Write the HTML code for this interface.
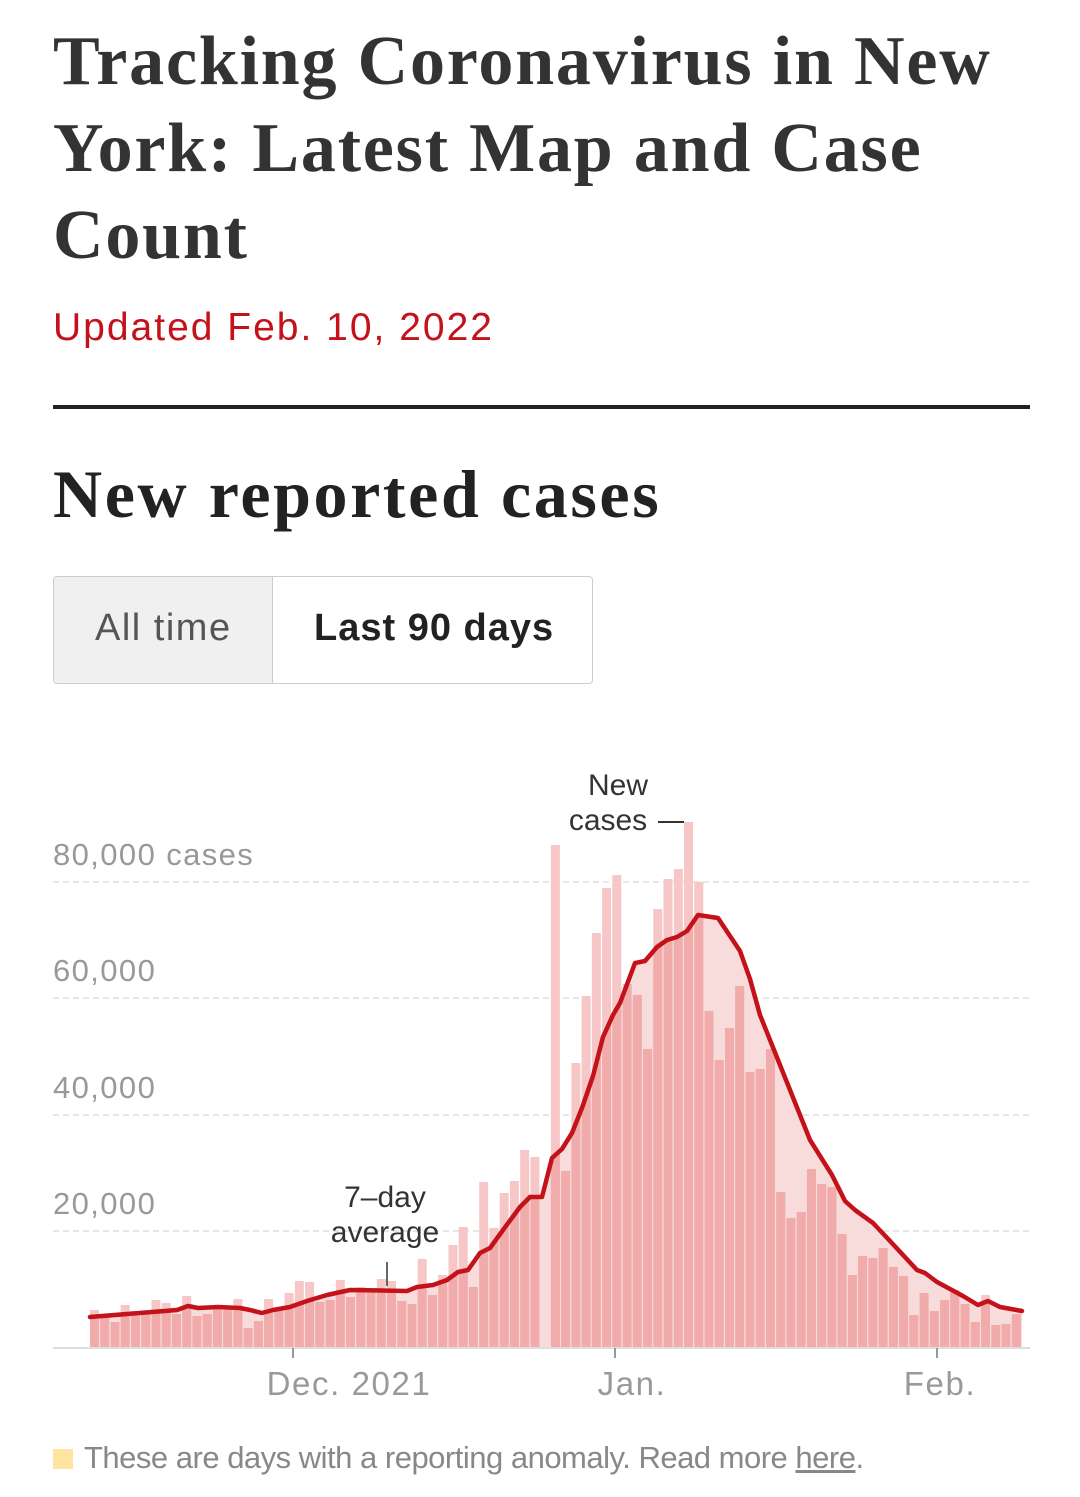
<!DOCTYPE html>
<html><head><meta charset="utf-8"><style>
body{margin:0;background:#fff;width:1080px;height:1497px;overflow:hidden;position:relative;font-family:"Liberation Sans",sans-serif}
.t{position:absolute;white-space:nowrap}
</style></head><body>
<div class="t" style="left:53px;top:18px;font:bold 70px/87px 'Liberation Serif',serif;color:#333;letter-spacing:1.8px">Tracking Coronavirus in New<br>York: Latest Map and Case<br>Count</div>
<div class="t" style="left:53px;top:306px;font-size:39px;color:#c4121a;letter-spacing:2px">Updated Feb. 10, 2022</div>
<div style="position:absolute;left:53px;top:405px;width:977px;height:4px;background:#222"></div>
<div class="t" style="left:53px;top:455px;font:bold 68px 'Liberation Serif',serif;color:#222;letter-spacing:2.6px">New reported cases</div>
<div style="position:absolute;left:53px;top:576px;width:538px;height:106px;border:1px solid #ccc;border-radius:4px;overflow:hidden">
<div style="position:absolute;left:0;top:0;width:218px;height:106px;background:#f0f0f0;border-right:1px solid #ccc"></div>
<div class="t" style="left:41px;top:30px;font-size:38px;color:#555;letter-spacing:1.5px">All time</div>
<div class="t" style="left:260px;top:30px;font-size:38px;font-weight:bold;color:#222;letter-spacing:1px">Last 90 days</div>
</div>
<svg id="c" width="1080" height="1497" style="position:absolute;left:0;top:0" xmlns="http://www.w3.org/2000/svg">
<g stroke="#ddd" stroke-width="1.5" stroke-dasharray="6,4">
<line x1="53" y1="882" x2="1030" y2="882"/><line x1="53" y1="998" x2="1030" y2="998"/><line x1="53" y1="1115" x2="1030" y2="1115"/><line x1="53" y1="1231" x2="1030" y2="1231"/></g>
<g font-family="Liberation Sans, sans-serif" font-size="31" fill="#999" letter-spacing="1.4">
<text x="53" y="865">80,000 cases</text><text x="53" y="981">60,000</text><text x="53" y="1098">40,000</text><text x="53" y="1214">20,000</text></g>
<g id="bars"></g>
<line x1="53" y1="1348" x2="1030" y2="1348" stroke="#ddd" stroke-width="2"/>
<g stroke="#999" stroke-width="2"><line x1="293" y1="1348" x2="293" y2="1358"/><line x1="615" y1="1348" x2="615" y2="1358"/><line x1="937" y1="1348" x2="937" y2="1358"/></g>
<g font-family="Liberation Sans, sans-serif" font-size="33" fill="#999" text-anchor="middle" letter-spacing="1.6">
<text x="349" y="1395">Dec. 2021</text><text x="632" y="1395">Jan.</text><text x="940" y="1395">Feb.</text></g>
<g font-family="Liberation Sans, sans-serif" font-size="30" fill="#333" text-anchor="middle">
<text x="618" y="795">New</text><text x="608" y="830">cases</text>
<text x="385" y="1207">7–day</text><text x="385" y="1242">average</text></g>
<line x1="658" y1="822" x2="684" y2="822" stroke="#333" stroke-width="2"/>
<line x1="387" y1="1262" x2="387" y2="1286" stroke="#333" stroke-width="1.5"/>
</svg>
<div style="position:absolute;left:53px;top:1449px;width:20px;height:20px;background:#fde4a0"></div>
<div class="t" style="left:84px;top:1440px;font-size:31px;color:#888;letter-spacing:-0.5px">These are days with a reporting anomaly. Read more <u>here</u>.</div>
<script>
var tops=[1310,1315,1322,1305,1311,1311,1300,1303,1314,1296,1316,1314,1307,1307,1299,1328,1321,1299,1310,1293,1281,1282,1302,1300,1280,1297,1287,1288,1279,1281,1301,1304,1259,1295,1275,1245,1227,1287,1182,1228,1193,1181,1150,1157,1347,845,1171,1063,996,933,888,875,984,995,1049,909,879,869,822,882,1011,1060,1028,986,1072,1069,1049,1192,1218,1212,1169,1184,1187,1234,1275,1256,1258,1248,1267,1276,1315,1293,1311,1300,1290,1304,1322,1295,1325,1324,1314];
var avg=[[90,1317],[177,1310],[188,1306],[198,1308],[218,1307],[240,1308],[250,1310],[262,1313],[273,1310],[290,1307],[307,1301],[327,1295],[350,1290],[407,1291],[417,1287],[433,1285],[447,1280],[458,1272],[468,1270],[480,1253],[490,1248],[503,1230],[520,1207],[530,1197],[542,1197],[552,1158],[562,1149],[572,1133],[582,1108],[593,1076],[603,1037],[613,1015],[620,1003],[635,963],[645,961],[657,947],[667,940],[677,937],[687,931],[698,915],[718,918],[740,951],[750,979],[760,1015],[780,1065],[810,1140],[832,1175],[845,1201],[855,1210],[873,1223],[890,1241],[917,1270],[925,1273],[937,1282],[963,1296],[978,1305],[988,1301],[1000,1307],[1022,1311]];
var NS="http://www.w3.org/2000/svg",g=document.getElementById('bars');
function el(n,a){var e=document.createElementNS(NS,n);for(var k in a)e.setAttribute(k,a[k]);return e}
var pts=avg.map(function(p){return p.join(',')}).join(' ');
var defs=el('defs',{}),cp=el('clipPath',{id:'cl'});cp.appendChild(el('polygon',{points:'90,1347 '+pts+' 1022,1347'}));defs.appendChild(cp);g.appendChild(defs);
g.appendChild(el('polygon',{points:'90,1347 '+pts+' 1022,1347',fill:'#f8dcdc'}));
var n=tops.length,w=(1022-90)/n;
var dark=el('g',{'clip-path':'url(#cl)'});
for(var i=0;i<n;i++){var x=90+i*w,t=tops[i];if(t>=1347)continue;
g.appendChild(el('rect',{x:x.toFixed(1),y:t,width:(w-1.2).toFixed(1),height:1347-t,fill:'#f7c6c6'}));
dark.appendChild(el('rect',{x:x.toFixed(1),y:t,width:(w-1.2).toFixed(1),height:1347-t,fill:'#f1abab'}));}
g.appendChild(dark);
g.appendChild(el('polyline',{points:pts,fill:'none',stroke:'#c4121a','stroke-width':4.5,'stroke-linejoin':'round','stroke-linecap':'round'}));
</script>
</body></html>
